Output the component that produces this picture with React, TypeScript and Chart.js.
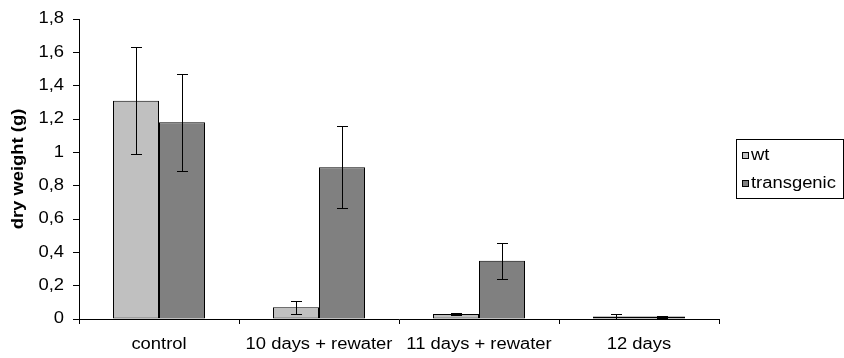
import React, { useEffect, useRef } from "react";
import { Chart, registerables } from "chart.js";

Chart.register(...registerables);

const categories = ["control", "10 days + rewater", "11 days + rewater", "12 days"];
const wtValues = [1.31, 0.07, 0.03, 0.015];
const wtErrors = [0.32, 0.04, 0.006, 0.018];
const transgenicValues = [1.18, 0.91, 0.35, 0.015];
const transgenicErrors = [0.29, 0.245, 0.107, 0.006];
const seriesNames = ["wt", "transgenic"];
const seriesColors = ["#c0c0c0", "#808080"];
const yTicks = ["0", "0,2", "0,4", "0,6", "0,8", "1", "1,2", "1,4", "1,6", "1,8"];

const FONT = "'Liberation Sans', Arial, sans-serif";
const TEXT_STRETCH = 1.15;

// widen every label along its own baseline (wide Arial look)
const wideText = {
  id: "wideText",
  beforeDraw(chart: any) {
    const ctx = chart.ctx;
    if (ctx.__wide) return;
    ctx.__wide = true;
    const base = CanvasRenderingContext2D.prototype.fillText;
    ctx.fillText = function (text: string, x: number, y: number) {
      this.save();
      this.translate(x, y);
      this.scale(TEXT_STRETCH, 1);
      base.call(this, text, 0, 0);
      this.restore();
    };
  },
};

// symmetric error bars drawn over each bar
const errorBars = {
  id: "errorBars",
  afterDatasetsDraw(chart: any) {
    const ctx = chart.ctx;
    const y = chart.scales.y;
    const errs = [wtErrors, transgenicErrors];
    ctx.save();
    ctx.strokeStyle = "#000";
    ctx.lineWidth = 1;
    chart.data.datasets.forEach((ds: any, di: number) => {
      const meta = chart.getDatasetMeta(di);
      meta.data.forEach((bar: any, i: number) => {
        const v = ds.data[i];
        const e = errs[di][i];
        const x = Math.round(bar.x) + 0.5;
        const yt = Math.round(y.getPixelForValue(v + e)) + 0.5;
        const yb = Math.round(y.getPixelForValue(Math.max(0, v - e))) + 0.5;
        const hw = 5.5;
        ctx.beginPath();
        ctx.moveTo(x, yt);
        ctx.lineTo(x, yb);
        ctx.moveTo(x - hw, yt);
        ctx.lineTo(x + hw, yt);
        ctx.moveTo(x - hw, yb);
        ctx.lineTo(x + hw, yb);
        ctx.stroke();
      });
    });
    ctx.restore();
  },
};

// boxed legend at the right of the plot
const boxLegend = {
  id: "boxLegend",
  afterDraw(chart: any) {
    const ctx = chart.ctx;
    const left = 736;
    const top = 139;
    ctx.save();
    ctx.strokeStyle = "#000";
    ctx.lineWidth = 1;
    ctx.strokeRect(left + 0.5, top + 0.5, 107, 59);
    ctx.font = `16px ${FONT}`;
    ctx.textBaseline = "middle";
    ctx.textAlign = "left";
    seriesNames.forEach((name, i) => {
      const cy = top + 16 + i * 28;
      ctx.fillStyle = seriesColors[i];
      ctx.fillRect(left + 6, cy - 3, 7, 7);
      ctx.strokeRect(left + 6.5, cy - 2.5, 6, 6);
      ctx.fillStyle = "#000";
      ctx.fillText(name, left + 15, cy + 1);
    });
    ctx.restore();
  },
};

export default function App() {
  const ref = useRef<HTMLCanvasElement>(null);

  useEffect(() => {
    if (!ref.current) return;
    const chart = new Chart(ref.current, {
      type: "bar",
      data: {
        labels: categories,
        datasets: [
          {
            label: seriesNames[0],
            data: wtValues,
            backgroundColor: seriesColors[0],
            borderColor: "#000",
            borderWidth: 1,
            borderSkipped: false,
          },
          {
            label: seriesNames[1],
            data: transgenicValues,
            backgroundColor: seriesColors[1],
            borderColor: "#000",
            borderWidth: 1,
            borderSkipped: false,
          },
        ],
      },
      options: {
        responsive: false,
        animation: false,
        devicePixelRatio: 1,
        layout: { padding: { top: 19, right: 125, bottom: 0, left: 0 } },
        datasets: { bar: { categoryPercentage: 0.575, barPercentage: 1 } },
        plugins: {
          legend: { display: false },
          tooltip: { enabled: false },
        },
        scales: {
          x: {
            offset: true,
            grid: {
              offset: true,
              drawOnChartArea: false,
              drawTicks: true,
              tickLength: 5,
              color: "#000",
            },
            border: { display: true, color: "#000", width: 1 },
            ticks: {
              color: "#000",
              font: { family: FONT, size: 16 },
              padding: 11,
              maxRotation: 0,
              autoSkip: false,
            },
            afterFit(scale: any) {
              scale.height = 39;
            },
          },
          y: {
            min: 0,
            max: 1.8,
            grid: {
              drawOnChartArea: false,
              drawTicks: true,
              tickLength: 6,
              color: "#000",
            },
            border: { display: true, color: "#000", width: 1 },
            ticks: {
              stepSize: 0.2,
              color: "#000",
              font: { family: FONT, size: 16 },
              padding: 9,
              callback: (_v: any, i: number) => yTicks[i],
            },
            title: {
              display: true,
              text: "dry weight (g)",
              color: "#000",
              font: { family: FONT, size: 16, weight: "bold" },
              padding: { top: 9, bottom: 0 },
            },
            afterFit(scale: any) {
              scale.width = 79;
            },
          },
        },
      },
      plugins: [wideText, errorBars, boxLegend],
    });
    return () => chart.destroy();
  }, []);

  return (
    <div style={{ position: "fixed", left: 0, top: 0, width: 844, height: 358, background: "#fff" }}>
      <canvas ref={ref} width={844} height={358} style={{ display: "block", width: 844, height: 358 }} />
    </div>
  );
}
